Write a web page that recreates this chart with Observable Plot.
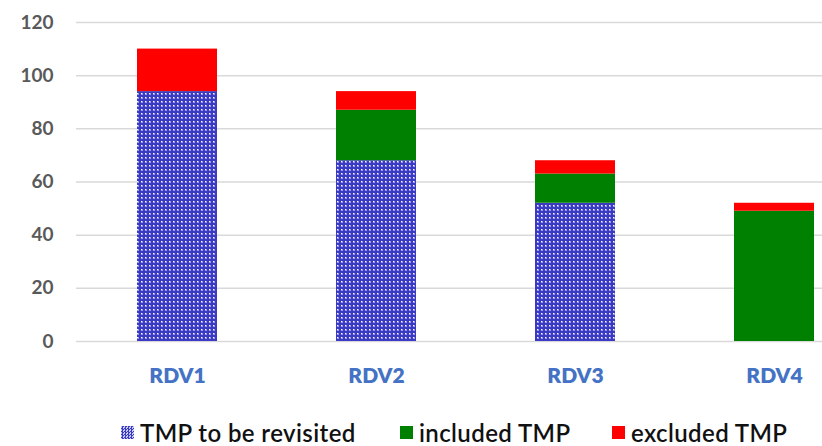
<!DOCTYPE html>
<html>
<head>
<meta charset="utf-8">
<script src="https://cdn.jsdelivr.net/npm/d3@7"></script>
<script src="https://cdn.jsdelivr.net/npm/@observablehq/plot@0.6"></script>
<style>
  html, body { margin: 0; padding: 0; background: #fff; }
  #wrap { position: relative; width: 822px; height: 446px; overflow: hidden; }
  #legend { position: absolute; left: 0; top: 417px; width: 822px; height: 30px; font-family: Lato, "Open Sans", sans-serif; font-size: 24px; letter-spacing: 0.4px; font-weight: 600; color: #111; }
  .item { position: absolute; top: 0; display: flex; align-items: center; height: 30px; }
  .sw { width: 13px; height: 13px; margin-right: 6px; }
</style>
</head>
<body>
<div id="wrap">
  <div id="chart"></div>
  <div id="legend"></div>
</div>
<script>
const categories = ["RDV1", "RDV2", "RDV3", "RDV4"];
const seriesNames = ["TMP to be revisited", "included TMP", "excluded TMP"];
const revisited = [94, 68, 52, 0];
const included = [0, 19, 11, 49];
const excluded = [16, 7, 5, 3];
const yTicks = [0, 20, 40, 60, 80, 100, 120];
const seriesFills = ["url(#checker)", "#008000", "#ff0000"];

const seriesValues = [revisited, included, excluded];
const data = [];
seriesNames.forEach((s, si) => {
  categories.forEach((c, ci) => {
    data.push({category: c, series: s, value: seriesValues[si][ci]});
  });
});

const chart = Plot.plot({
  width: 822,
  height: 410,
  marginLeft: 76,
  marginRight: 0,
  marginTop: 22,
  marginBottom: 69,
  style: {fontFamily: "Lato, 'Open Sans', sans-serif", background: "#fff"},
  x: {domain: categories, range: [77, 873], paddingInner: 0.6, paddingOuter: 0.3, label: null},
  y: {domain: [0, 120], ticks: yTicks, label: null},
  color: {domain: seriesNames, range: seriesFills},
  marks: [
    Plot.ruleY(yTicks, {stroke: "#d9d9d9", strokeWidth: 1.5}),
    Plot.barY(data, {x: "category", y: "value", fill: "series", order: seriesNames}),
    Plot.axisY({ticks: yTicks, tickSize: 0, tickPadding: 23, fontSize: 19, fill: "#595959", fontWeight: 700}),
    Plot.axisX({tickSize: 0, tickPadding: 27, fontSize: 21, fill: "#4472c4", fontWeight: 800})
  ]
});

// add checker pattern definition
const svgNS = "http://www.w3.org/2000/svg";
const defs = document.createElementNS(svgNS, "defs");
defs.innerHTML = `
<pattern id="checker" width="4" height="4" patternUnits="userSpaceOnUse">
  <rect width="4" height="4" fill="#3a3ac2"></rect>
  <rect x="1" y="1" width="2" height="2" fill="#9a9ae4"></rect>
  <rect x="1" y="1" width="1" height="1" fill="#ffffff"></rect>
</pattern>`;
chart.insertBefore(defs, chart.firstChild);
document.getElementById("chart").appendChild(chart);

// legend
const legend = document.getElementById("legend");
const lefts = [121, 400, 612];
seriesNames.forEach((s, i) => {
  const item = document.createElement("div");
  item.className = "item";
  item.style.left = lefts[i] + "px";
  const sw = document.createElement("div");
  sw.className = "sw";
  if (i === 0) {
    sw.style.background = "repeating-conic-gradient(#3a3ac2 0 25%, #c8c8f4 0 50%) 0 0 / 3px 3px";
  } else {
    sw.style.background = seriesFills[i];
  }
  const t = document.createElement("span");
  t.textContent = s;
  item.appendChild(sw);
  item.appendChild(t);
  legend.appendChild(item);
});
</script>
</body>
</html>
